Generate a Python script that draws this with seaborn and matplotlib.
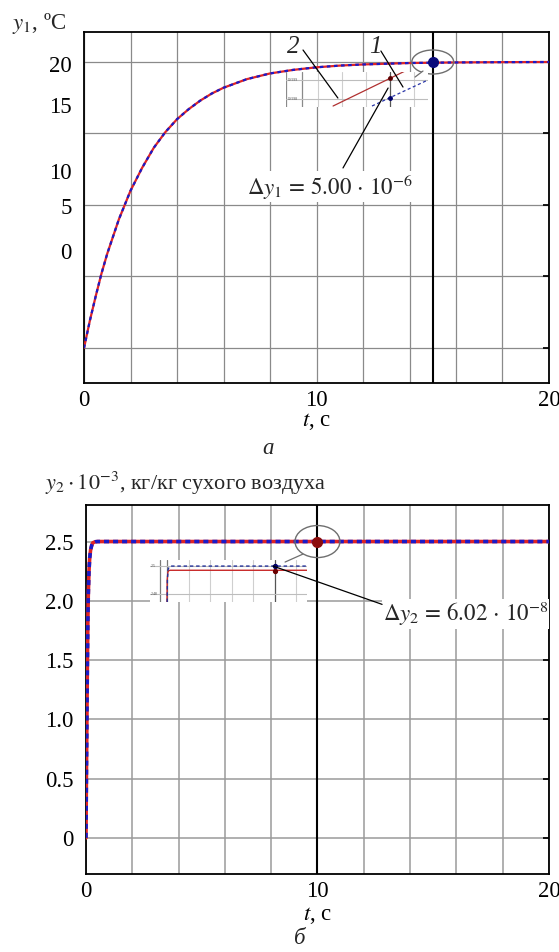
import matplotlib
matplotlib.use("Agg")
import matplotlib.pyplot as plt
import seaborn as sns
from matplotlib.patches import Ellipse
from matplotlib.lines import Line2D

# ==========================================
# DATA
# ==========================================

# panel a: temperature y1, two models (1 - blue dashed, 2 - red)
t1 = [0, 0.25, 0.5, 0.75, 1, 1.5, 2, 2.5, 3, 3.5, 4, 4.5, 5, 5.5, 6,
      7, 8, 9, 10, 11, 12, 14, 16, 18, 20]
y1 = [0, 1.9, 3.6, 5.2, 6.6, 9.0, 11.0, 12.6, 14.0, 15.1, 16.0, 16.7, 17.3,
      17.8, 18.2, 18.8, 19.2, 19.45, 19.63, 19.75, 19.83, 19.93, 19.97,
      19.99, 20.0]
y1_grid = [0, 5, 10, 15, 20]
y1_label_pos = [19.85, 17.0, 12.4, 9.95, 6.8]
y1_labels = ["20", "15", "10", "5", "0"]
point1 = (15, 20)

# panel a inset (zoomed, units of 1e-6 around 20 degC)
ins1_t_red = [14.763, 15.063]
ins1_red = [-6.84, 2.37]
ins1_t_blue = [14.925, 15.158]
ins1_blue = [-6.84, 0.0]
ins1_pts_red = 0.44
ins1_pts_blue = -4.64

# panel b: humidity y2
t2 = [0, 0.02, 0.04, 0.06, 0.08, 0.10, 0.13, 0.16, 0.20, 0.25, 0.30,
      0.40, 0.50, 1, 2, 5, 10, 15, 20]
y2 = [0, 0.55, 1.0, 1.45, 1.8, 2.05, 2.25, 2.36, 2.43, 2.47, 2.49,
      2.498, 2.5, 2.5, 2.5, 2.5, 2.5, 2.5, 2.5]
y2_ticks = [0, 0.5, 1.0, 1.5, 2.0, 2.5]
y2_labels = ["0", "0.5", "1.0", "1.5", "2.0", "2.5"]
point2 = (10, 2.5)

# panel b inset
ins2_t_red = [4.98, 4.99, 5.02, 5.06, 5.12, 11.49]
ins2_red = [2.4743, 2.490, 2.4955, 2.4967, 2.4970, 2.4970]
ins2_t_blue = [4.99, 5.0, 5.03, 5.08, 5.15, 11.49]
ins2_blue = [2.4743, 2.49, 2.4975, 2.4993, 2.5, 2.5]

# ==========================================
# STYLE
# ==========================================

sns.set_theme(style="white")
plt.rcParams["font.family"] = ["Liberation Serif", "DejaVu Serif"]
plt.rcParams["mathtext.fontset"] = "stix"

RED = "#e02424"
BLUE = "#1a1ac8"
GRID = "#8a8a8a"
FS = 16.5

fig = plt.figure(figsize=(5.59, 9.52), dpi=100)
ax1 = fig.add_axes([0.1503, 0.5977, 0.8318, 0.3687])
ax2 = fig.add_axes([0.1538, 0.0819, 0.8283, 0.3876])


def style_axes(ax):
    for s in ax.spines.values():
        s.set_visible(True)
        s.set_color("black")
        s.set_linewidth(1.3)
    ax.tick_params(which="both", direction="in", color="black",
                   labelsize=FS, labelcolor="black", right=True)
    ax.tick_params(axis="y", which="both", pad=9)
    ax.tick_params(axis="x", which="both", pad=5)
    ax.tick_params(which="minor", length=0)
    ax.tick_params(which="major", length=4)


# ==========================================
# PANEL A
# ==========================================

ax = ax1
style_axes(ax)
ax.set_xlim(0, 20)
ax.set_ylim(-2.45, 22.1)
ax.set_xticks([0, 10, 20])
ax.set_xticks(list(range(0, 21, 2)), minor=True)
ax.set_yticks(y1_grid)
ax.set_yticklabels([""] * len(y1_grid))
ax.set_yticks(y1_label_pos, minor=True)
ax.set_yticklabels(y1_labels, minor=True)
ax.xaxis.grid(True, which="both", color=GRID, lw=0.9)
ax.yaxis.grid(True, which="major", color=GRID, lw=0.9)

sns.lineplot(x=t1, y=y1, ax=ax, color=RED, lw=1.6, zorder=3)
sns.lineplot(x=t1, y=y1, ax=ax, color=BLUE, lw=1.6,
             linestyle=(0, (1.6, 1.6)), zorder=4)
ax.axvline(point1[0], color="black", lw=1.5, zorder=5)
ax.plot([point1[0]], [point1[1]], "o", color="#0b0b7a", ms=7, zorder=6)
ax.add_patch(Ellipse(point1, 1.8, 1.68, fill=False, ec="#6e6e6e", lw=1.0,
                     zorder=6))
ax.set_xlabel(r"$t$, с", fontsize=FS, labelpad=0, color="black")
ax.set_ylabel("")

ax.text(8.99, 21.05, "2", fontsize=18, fontstyle="italic",
        ha="center", va="center")
ax.text(12.52, 21.05, "1", fontsize=18, fontstyle="italic",
        ha="center", va="center")
ax.text(7.0, 11.26, r"$\Delta y_1\,=\,5.00\,\cdot\,10^{-6}$", fontsize=16.5,
        ha="left", va="center",
        bbox=dict(fc="white", ec="none", pad=0.5))

# inset a
ins1 = fig.add_axes([0.5116, 0.8876, 0.254, 0.03676])
ins1.set_facecolor("white")
for s in ins1.spines.values():
    s.set_visible(False)
ins1.set_xlim(14.567, 15.158)
ins1.set_ylim(-7.1, 2.1)
ins1.set_xticks([])
ins1.set_yticks([])
for xv in [14.7, 14.8, 14.9, 15.1]:
    ins1.axvline(xv, color="#cfcfcf", lw=0.8)
for xv in [14.569, 14.634]:
    ins1.axvline(xv, color="#8a8a8a", lw=0.9)
ins1.axvline(15.0, color="#555555", lw=0.9)
for yv in [0, -5]:
    ins1.axhline(yv, color="#bdbdbd", lw=0.8)
ins1.text(14.575, 0, "19.999", fontsize=2.6, va="center", color="#444444")
ins1.text(14.575, -5, "19.998", fontsize=2.6, va="center", color="#444444")
ins1.plot(ins1_t_red, ins1_red, color="#b03030", lw=0.9)
ins1.plot(ins1_t_blue, ins1_blue, color="#2a36a8", lw=0.9,
          linestyle=(0, (2.5, 2)))
ins1.plot([15.0], [ins1_pts_red], "o", color="#5a0000", ms=2.5)
ins1.plot([15.0], [ins1_pts_blue], "o", color="#00006a", ms=2.5)

# leader lines (drawn on top of everything)
for xs, ys in [([9.42, 10.92], [20.84, 17.48]),
               ([12.77, 13.72], [20.77, 18.25]),
               ([11.14, 13.08], [12.59, 18.18])]:
    fig.add_artist(Line2D(xs, ys, transform=ax1.transData, color="black",
                          lw=0.9, zorder=10))
fig.add_artist(Line2D([14.58, 14.24], [19.37, 18.95], transform=ax1.transData,
                      color="#6e6e6e", lw=0.9, zorder=10))

# ==========================================
# PANEL B
# ==========================================

ax = ax2
style_axes(ax)
ax.set_xlim(0, 20)
ax.set_ylim(-0.305, 2.808)
ax.set_xticks([0, 10, 20])
ax.set_xticks(list(range(0, 21, 2)), minor=True)
ax.set_yticks(y2_ticks)
ax.set_yticklabels(y2_labels)
ax.xaxis.grid(True, which="both", color="#9a9a9a", lw=1.1)
ax.yaxis.grid(True, which="major", color="#9a9a9a", lw=1.1)

sns.lineplot(x=t2, y=y2, ax=ax, color=RED, lw=2.6, zorder=3)
sns.lineplot(x=t2, y=y2, ax=ax, color=BLUE, lw=2.6,
             linestyle=(0, (1.4, 1.1)), zorder=4)
ax.axvline(point2[0], color="black", lw=1.5, zorder=5)
ax.plot([point2[0]], [point2[1]], "o", color="#8c0c0c", ms=7, zorder=6)
ax.add_patch(Ellipse(point2, 1.94, 0.27, fill=False, ec="#6e6e6e", lw=1.0,
                     zorder=6))
ax.set_xlabel(r"$t$, с", fontsize=FS, labelpad=2, color="black")
ax.set_ylabel("")

ax.text(12.83, 1.887, r"$\Delta y_2\,=\,6.02\,\cdot\,10^{-8}$", fontsize=16.5,
        ha="left", va="center",
        bbox=dict(fc="white", ec="none", pad=0.5))

# inset b
ins2 = fig.add_axes([0.2683, 0.3676, 0.2809, 0.0441])
ins2.set_facecolor("white")
for s in ins2.spines.values():
    s.set_visible(False)
ins2.set_xlim(4.19, 11.49)
ins2.set_ylim(2.4743, 2.5043)
ins2.set_xticks([])
ins2.set_yticks([])
for xv in [6, 7, 8, 9, 11]:
    ins2.axvline(xv, color="#cfcfcf", lw=0.8)
for xv in [4.65, 4.96]:
    ins2.axvline(xv, color="#7a7a7a", lw=0.9)
ins2.axvline(10, color="#555555", lw=0.9)
for yv in [2.5, 2.48]:
    ins2.axhline(yv, color="#bdbdbd", lw=0.8)
ins2.text(4.25, 2.5, "2.5", fontsize=2.8, va="center", color="#444444")
ins2.text(4.25, 2.48, "2.48", fontsize=2.8, va="center", color="#444444")
ins2.plot(ins2_t_red, ins2_red, color="#c82828", lw=1.0)
ins2.plot(ins2_t_blue, ins2_blue, color="#24329a", lw=1.0,
          linestyle=(0, (2.5, 2)))
ins2.plot([10], [2.5], "o", color="#00006a", ms=2.8)
ins2.plot([10], [2.4966], "o", color="#6a0000", ms=2.8)

fig.add_artist(Line2D([8.08, 12.79], [2.293, 1.97], transform=ax2.transData,
                      color="black", lw=0.9, zorder=10))
fig.add_artist(Line2D([9.37, 8.60], [2.394, 2.327], transform=ax2.transData,
                      color="#6e6e6e", lw=0.9, zorder=10))

# ==========================================
# TITLES / LETTERS
# ==========================================

fig.text(12 / 559, 1 - 24 / 952, r"$y_1$, ºC", fontsize=FS,
         ha="left", va="center")
fig.text(45 / 559, 1 - 483 / 952, r"$y_2 \cdot 10^{-3}$, кг/кг сухого воздуха",
         fontsize=16, ha="left", va="center")
fig.text(268 / 559, 1 - 449 / 952, "а", fontsize=FS, fontstyle="italic",
         ha="center", va="center")
fig.text(300 / 559, 1 - 938 / 952, "б", fontsize=FS, fontstyle="italic",
         ha="center", va="center")

fig.savefig("out.png", dpi=100, facecolor="white")
